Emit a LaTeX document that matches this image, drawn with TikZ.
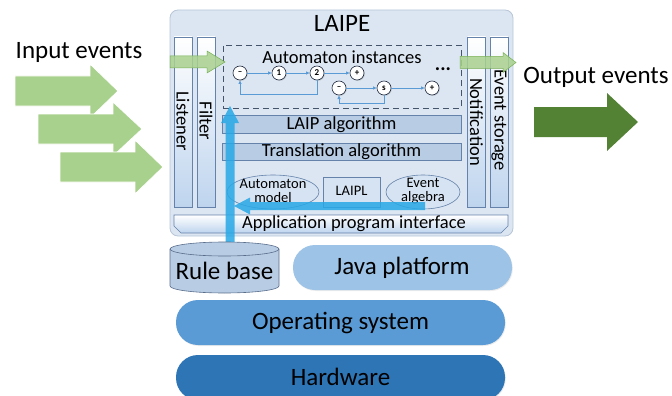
\documentclass[tikz,border=0pt]{standalone}
\usepackage{fontspec}
\setmainfont{Carlito}
\usetikzlibrary{arrows.meta,shadows,calc,shapes.geometric}
\definecolor{laipebg}{RGB}{220,230,242}
\definecolor{laipeborder}{RGB}{185,198,215}
\definecolor{colfill}{RGB}{190,212,238}
\definecolor{colborder}{RGB}{100,130,170}
\definecolor{barfill}{RGB}{184,204,228}
\definecolor{ellfill}{RGB}{214,227,242}
\definecolor{lineblue}{RGB}{91,155,213}
\definecolor{navy}{RGB}{35,45,65}
\definecolor{dashcol}{RGB}{68,84,106}
\definecolor{ingreen}{RGB}{169,209,142}
\definecolor{ingreenborder}{RGB}{120,175,85}
\definecolor{outgreen}{RGB}{84,130,53}
\definecolor{arrblue}{RGB}{40,168,230}
\definecolor{rbfill}{RGB}{184,204,228}
\definecolor{rbborder}{RGB}{90,110,140}
\definecolor{javafill}{RGB}{157,195,230}
\definecolor{osfill}{RGB}{91,155,213}
\definecolor{hwfill}{RGB}{46,117,182}
\newcommand\myblockarrow[7]{%
  \path[#7] ({#1},{#4-#5}) -- ({#2},{#4-#5}) -- ({#2},{#4-#6}) -- ({#3},{#4})
    -- ({#2},{#4+#6}) -- ({#2},{#4+#5}) -- ({#1},{#4+#5}) -- cycle;}
\begin{document}
\begin{tikzpicture}[x=1pt,y=-1pt,
  every node/.style={inner sep=0pt, outer sep=0pt},
  bigtxt/.style={font=\fontsize{25}{25}\selectfont},
  midtxt/.style={font=\fontsize{18.5}{18.5}\selectfont},
  smalltxt/.style={font=\fontsize{14.5}{14}\selectfont, align=center},
  colbox/.style={draw=colborder, line width=0.6pt, top color=white, bottom color=colfill,
    minimum width=18pt, minimum height=170pt},
  barbox/.style={draw=colborder, line width=0.6pt, fill=barfill, minimum width=239pt},
  circ/.style={circle, draw=navy, line width=0.6pt, fill=white, minimum size=14pt,
    font=\bfseries\fontsize{9}{9}\selectfont,
    drop shadow={shadow xshift=0.8pt, shadow yshift=-0.8pt, opacity=0.35}},
  autoline/.style={draw=lineblue, line width=0.9pt, -{Latex[length=4pt,width=3.5pt]}},
  pill/.style={rounded corners=22pt, minimum width=329pt, minimum height=45pt,
    drop shadow={shadow xshift=0.8pt, shadow yshift=-1pt, opacity=0.15}}
]
\useasboundingbox (0,0) rectangle (672,396);

% ---- input / output texts and arrows
\node[bigtxt] (inlabel) at (79,52) {Input events};
\node[bigtxt] (outlabel) at (596,77) {Output events};
\myblockarrow{15}{90}{118}{91}{15}{27}{fill=ingreen, draw=white, line width=0.8pt}
\myblockarrow{38}{113}{142}{129}{15}{27}{fill=ingreen, draw=white, line width=0.8pt}
\myblockarrow{60}{135}{163}{167}{15}{27}{fill=ingreen, draw=white, line width=0.8pt}
\myblockarrow{534}{607}{638}{122}{15}{29}{fill=outgreen}

% ---- LAIPE container
\node[draw=laipeborder, line width=0.8pt, fill=laipebg, rounded corners=8pt,
  minimum width=343pt, minimum height=226pt] (laipe) at (341.5,123) {};
\node[font=\fontsize{25}{25}\selectfont] (laipetitle) at (342,23) {LAIPE};

% columns
\node[colbox] (listener) at (183,122) {};
\node[colbox] (filter) at (206,122) {};
\node[colbox] (notif) at (476.5,122) {};
\node[colbox] (storage) at (499,122) {};
\node[midtxt, rotate=-90] (listenerlbl) at (183,121) {Listener};
\node[midtxt, rotate=-90] (filterlbl) at (206,121) {Filter};
\node[midtxt, rotate=-90] (notiflbl) at (476.5,122) {Notification};
\node[midtxt, rotate=-90] (storagelbl) at (499,120) {Event storage};

% automaton instances
\node[draw=dashcol, line width=0.8pt, dash pattern=on 6pt off 4pt,
  minimum width=238pt, minimum height=63pt] (inst) at (342,76.5) {};
\node[font=\fontsize{18.5}{18.5}\selectfont] (instlbl) at (342,57) {Automaton instances};
\node[circ] (a0) at (240,73) {\textendash};
\node[circ] (a1) at (279,73) {1};
\node[circ] (a2) at (317,73) {2};
\node[circ] (a3) at (357,73) {+};
\node[circ] (b0) at (339,88) {\textendash};
\node[circ] (b1) at (384,88) {s};
\node[circ] (b2) at (432,88) {+};
\node[font=\bfseries\fontsize{20}{20}\selectfont] (dots) at (443,69) {...};
\draw[autoline] (a0) -- (a1);
\draw[autoline] (a1) -- (a2);
\draw[autoline] (a2) -- (a3);
\draw[autoline] (a2.south) -- ++(0,14) -| (a0.south);
\draw[autoline] (b0) -- (b1);
\draw[autoline] (b1) -- (b2);
\draw[autoline] (b1.south) -- ++(0,8) -| (b0.south);

% bars
\node[barbox, minimum height=18pt] (laipalg) at (341.5,124.5) {};
\node[midtxt] (laipalglbl) at (341.5,125) {LAIP algorithm};
\node[barbox, minimum height=17pt] (transalg) at (341.5,151.5) {};
\node[midtxt] (transalglbl) at (341.5,152) {Translation algorithm};

% models
\node[ellipse, draw=colborder, line width=0.6pt, fill=ellfill,
  minimum width=92pt, minimum height=34pt] (automodel) at (273,192) {};
\node[smalltxt] (automodellbl) at (273,191) {Automaton\\model};
\node[draw=colborder, line width=0.6pt, fill=ellfill,
  minimum width=57pt, minimum height=30pt] (laipl) at (351.5,192) {};
\node[smalltxt] (laipllbl) at (351.5,191) {LAIPL};
\node[ellipse, draw=colborder, line width=0.6pt, fill=ellfill,
  minimum width=74pt, minimum height=34pt] (evalg) at (423,192) {};
\node[smalltxt] (evalglbl) at (423,191) {Event\\algebra};

% API bar
\path[draw=colborder, line width=0.6pt, top color=white, bottom color=colfill]
  (174,215) -- (508,215) -- (508,226) -- (501,233) -- (181,233) -- (174,226) -- cycle;
\node[midtxt] (api) at (354,224) {Application program interface};

% thin green arrows through listener/filter and notification/storage
\myblockarrow{170}{207}{225}{62}{6}{11}{fill=ingreen, fill opacity=0.85, draw=ingreenborder, line width=0.5pt}
\myblockarrow{460}{503}{516}{62.5}{6}{10}{fill=ingreen, fill opacity=0.85, draw=ingreenborder, line width=0.5pt}

% blue arrows
\coordinate (rbtop) at (230,249);
\coordinate (vtip) at (230,106);
\path[fill=arrblue, fill opacity=0.85]
  ($(rbtop)+(-4.5,0)$) -- ($(vtip)+(-4.5,17)$) -- ($(vtip)+(-9,17)$) -- (vtip)
  -- ($(vtip)+(9,17)$) -- ($(vtip)+(4.5,17)$) -- ($(rbtop)+(4.5,0)$) -- cycle;
\coordinate (hstart) at (425,206);
\coordinate (htip) at (234,206);
\path[fill=arrblue, fill opacity=0.85]
  ($(hstart)+(0,-4)$) -- ($(htip)+(16,-4)$) -- ($(htip)+(16,-8.5)$) -- (htip)
  -- ($(htip)+(16,8.5)$) -- ($(htip)+(16,4)$) -- ($(hstart)+(0,4)$) -- cycle;

% rule base cylinder
\path[draw=rbborder, line width=0.6pt, fill=rbfill]
  (170,249) -- (170,286) arc[start angle=180, end angle=360, x radius=54.5pt, y radius=7pt]
  -- (279,249) arc[start angle=0, end angle=180, x radius=54.5pt, y radius=7pt] -- cycle;
\draw[rbborder, line width=0.6pt] (170,249) arc[start angle=180, end angle=360, x radius=54.5pt, y radius=7pt];
\node[bigtxt] (rulebase) at (224.5,271) {Rule base};

% platform layers
\node[pill, fill=javafill, minimum width=219pt] (java) at (402.5,267.5) {};
\node[bigtxt] (javalbl) at (402,268) {Java platform};
\node[pill, fill=osfill] (os) at (340.5,322.5) {};
\node[bigtxt] (oslbl) at (340.5,323) {Operating system};
\node[pill, fill=hwfill] (hw) at (340.5,377.5) {};
\node[bigtxt] (hwlbl) at (340.5,377) {Hardware};
\end{tikzpicture}
\end{document}
